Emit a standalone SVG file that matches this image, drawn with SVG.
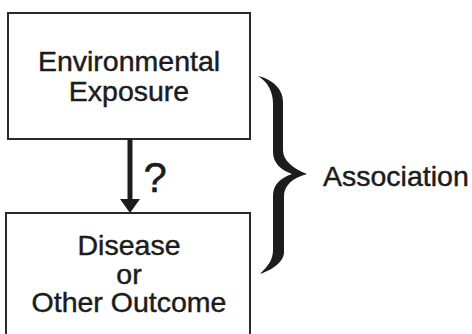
<svg xmlns="http://www.w3.org/2000/svg" width="472" height="334" viewBox="0 0 472 334">
  <defs>
    <style>
      .box { fill: #ffffff; stroke: #2a2a2a; stroke-width: 2; }
      .txt { font-family: "Liberation Sans", Arial, sans-serif; fill: #1c1c1c; stroke: #1c1c1c; stroke-width: 0.45; }
      .label { font-size: 28.5px; text-anchor: middle; }
      .ink { fill: #1c1c1c; }
    </style>
  </defs>
  <rect width="472" height="334" fill="#ffffff"/>

  <g id="exposure">
    <rect class="box" x="8" y="13" width="242" height="126"/>
    <text class="txt label" x="129" y="71">Environmental</text>
    <text class="txt label" x="129" y="101">Exposure</text>
  </g>

  <g id="outcome">
    <rect class="box" x="6" y="213" width="244" height="140"/>
    <text class="txt label" x="129" y="255">Disease</text>
    <text class="txt label" x="129" y="284">or</text>
    <text class="txt label" x="129" y="312">Other Outcome</text>
  </g>

  <g id="connectors">
    <!-- causal arrow between the two boxes -->
    <rect class="ink" x="127.5" y="139" width="5" height="62"/>
    <polygon class="ink" points="120,199 140,199 130,213"/>
    <text class="txt" x="143.5" y="192" font-size="42" stroke-width="0.8">?</text>
  </g>

  <g id="association">
    <!-- curly brace spanning both boxes -->
    <path class="ink" d="M258,76 C268,78 283,86 283,102 L283,150 C283,160 292,168 307,174 C292,178 284,186 284,196 L284,252 C284,262 272,270 260,274 C268,266 273,260 273,250 L273,196 C273,184 281,178 292,174 C281,170 273,163 273,152 L273,104 C273,92 268,82 258,76 Z"/>
    <text class="txt" x="323" y="186" font-size="28.5">Association</text>
  </g>
</svg>
